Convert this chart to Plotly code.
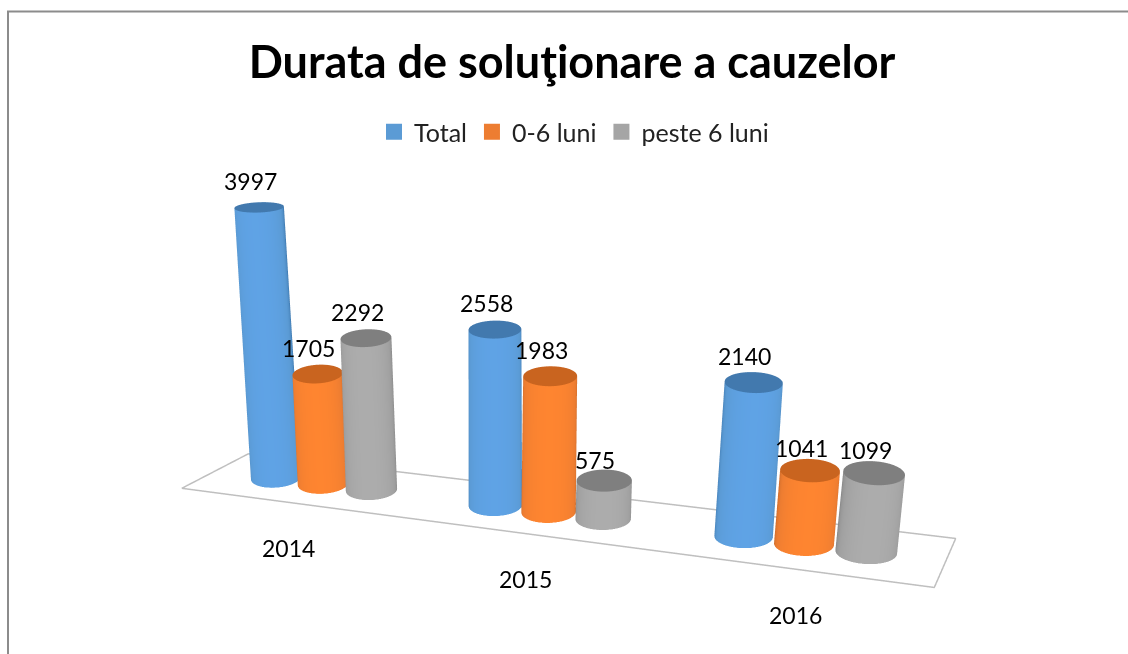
import numpy as np
import plotly.graph_objects as go

years = ["2014", "2015", "2016"]
series_names = ["Total", "0-6 luni", "peste 6 luni"]
total = [3997, 2558, 2140]
short = [1705, 1983, 1041]
long_ = [2292, 575, 1099]
swatches = ["#5B9BD5", "#ED7D31", "#A5A5A5"]
# edge, mid, highlight, cap
shades = [["#3E78AE", "#5B9BD5", "#5FA3E6", "#4279AE"],
          ["#C0652A", "#ED7D31", "#FF8530", "#C9641F"],
          ["#858585", "#A0A0A0", "#ADADAD", "#7F7F7F"]]
values = [total, short, long_]
label_lift = [[26, 26, 26], [26, 26, 22], [26, 20, 23]]
floor_x = [-0.055, 2.925, 3.08, 0.02, -0.055]
floor_y = [0, 0, 1, 1, 0]

W, H = 1128, 654
BAR_STEP, RX, RY = 0.2250, 0.1125, 0.2321
eye = dict(x=0.4766, y=-2.0625, z=0.7635)
center = dict(x=0.0288, y=0.0415, z=0.1318)
up = dict(x=-0.0321, y=0.0710, z=1)
x_range, y_range = [-0.3, 3.3], [-0.5, 1.5]
aspect = dict(x=2.2156 * 1.2, y=0.2692 * 2, z=0.8741)
TOP = 4000

fig = go.Figure()
for name, col in zip(series_names, swatches):
    fig.add_trace(go.Scatter3d(x=[None], y=[None], z=[None], mode="markers", name=name,
                               marker=dict(color=col, symbol="square", size=16)))

th = np.linspace(0, 2 * np.pi, 97)
shade = np.clip(-np.sin(th), 0, 1) ** 0.6 * 0.88
annos = []
for j, (vals, cols) in enumerate(zip(values, shades)):
    cs = [[0, cols[0]], [0.5, cols[1]], [0.9, cols[2]], [0.9, cols[3]], [1, cols[3]]]
    for i, v in enumerate(vals):
        cx = i + .5 + (j - 1) * BAR_STEP
        shear = 0.75 - 0.1 * (cx - 1.5)       # keeps the ellipses level on screen
        skew = max(0.0, 0.2 - 0.08 * cx)      # keeps the ellipses upright on screen
        frac = v / TOP
        lean = 0.0333 * (1.5 - cx) * frac     # softens the perspective lean
        rb = RX * (0.88 + 0.045 * cx)
        rt = rb * (1 - 0.12 * frac)
        dt = RY * (1 + 0.6 * frac)
        xb = cx + rb * np.cos(th) - skew * RY * np.sin(th)
        xt = cx + lean + rt * np.cos(th) - skew * dt * np.sin(th)
        yb = .5 + RY * np.sin(th) + shear * rb * np.cos(th)
        yt = .5 + dt * np.sin(th) + shear * rt * np.cos(th)
        X = np.array([xb, xt, xt, cx + lean + 0 * th])
        Y = np.array([yb, yt, yt, .5 + 0 * th])
        Z = np.array([0 * th, v + 0 * th, v + 0 * th, v + 0 * th])
        C = np.array([shade, shade, 1 + 0 * th, 1 + 0 * th])
        fig.add_trace(go.Surface(x=X, y=Y, z=Z, surfacecolor=C, cmin=0, cmax=1, colorscale=cs,
                                 showscale=False, showlegend=False, hoverinfo="skip",
                                 lighting=dict(ambient=1, diffuse=0, specular=0, fresnel=0, roughness=1)))
        annos.append(dict(x=cx + lean, y=.5, z=v, text=str(v), showarrow=False, xshift=-9,
                          yshift=label_lift[j][i], font=dict(family="Lato", size=23, color="#000000")))
for i, yr in enumerate(years):
    annos.append(dict(x=i + .5, y=0, z=0, text=yr, showarrow=False, xshift=-12, yshift=-44,
                      font=dict(family="Lato", size=23, color="#000000")))

fig.add_trace(go.Scatter3d(x=floor_x, y=floor_y, z=[0] * 5, mode="lines",
                           showlegend=False, hoverinfo="skip", line=dict(color="#BFBFBF", width=3)))
ax = dict(visible=False)
fig.update_layout(
    margin=dict(l=0, r=0, t=0, b=0), width=W, height=H, paper_bgcolor="white", font=dict(family="Lato"),
    title=dict(text="<b>Durata de soluţionare a cauzelor</b>", x=572 / W, xanchor="center", y=1 - 62 / H,
               yanchor="middle", font=dict(family="Lato", size=45, color="#000000")),
    legend=dict(orientation="h", x=374 / W, xanchor="left", y=1 - 132 / H, yanchor="middle",
                font=dict(family="Lato", size=25, color="#222222"), bgcolor="rgba(0,0,0,0)"),
    shapes=[dict(type="rect", xref="paper", yref="paper", x0=8 / W, x1=1.1, y0=-0.1, y1=1 - 11.5 / H,
                 line=dict(color="#8C8C8C", width=2))],
    scene=dict(dragmode="orbit", domain=dict(x=[0, 1], y=[0, 1]),
               xaxis=dict(range=x_range, **ax), yaxis=dict(range=y_range, **ax), zaxis=dict(range=[0, TOP], **ax),
               aspectmode="manual", aspectratio=aspect, annotations=annos,
               camera=dict(eye=eye, center=center, up=up)))
fig.write_html("out.html", post_script="document.body.style.margin='0';", config=dict(displayModeBar=False))
